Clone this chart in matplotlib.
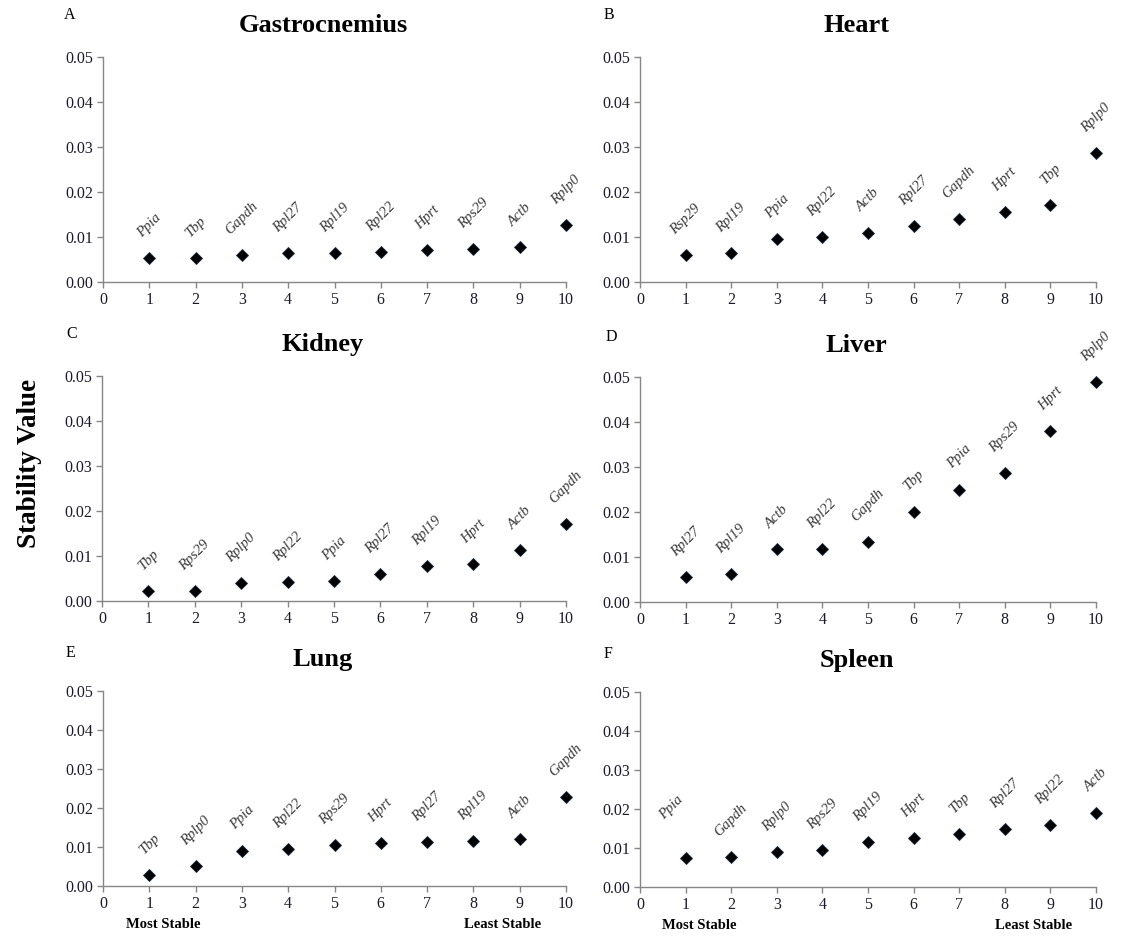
import numpy as np
import matplotlib
matplotlib.use("Agg")
from matplotlib import pyplot as plt

plt.rcParams['font.family'] = ['Liberation Serif', 'DejaVu Serif']

ranks = np.arange(1, 11)

gastro_genes = ["Ppia", "Tbp", "Gapdh", "Rpl27", "Rpl19", "Rpl22", "Hprt", "Rps29", "Actb", "Rplp0"]
gastro_vals = [0.0054, 0.0054, 0.0059, 0.0064, 0.0064, 0.0067, 0.0072, 0.0074, 0.0077, 0.0127]

heart_genes = ["Rsp29", "Rpl19", "Ppia", "Rpl22", "Actb", "Rpl27", "Gapdh", "Hprt", "Tbp", "Rplp0"]
heart_vals = [0.0059, 0.0064, 0.0096, 0.0099, 0.0110, 0.0124, 0.0139, 0.0156, 0.0171, 0.0287]

kidney_genes = ["Tbp", "Rps29", "Rplp0", "Rpl22", "Ppia", "Rpl27", "Rpl19", "Hprt", "Actb", "Gapdh"]
kidney_vals = [0.0022, 0.0022, 0.0040, 0.0042, 0.0045, 0.0060, 0.0077, 0.0082, 0.0113, 0.0172]

liver_genes = ["Rpl27", "Rpl19", "Actb", "Rpl22", "Gapdh", "Tbp", "Ppia", "Rps29", "Hprt", "Rplp0"]
liver_vals = [0.0055, 0.0062, 0.0117, 0.0117, 0.0134, 0.0201, 0.0250, 0.0287, 0.0379, 0.0489]

lung_genes = ["Tbp", "Rplp0", "Ppia", "Rpl22", "Rps29", "Hprt", "Rpl27", "Rpl19", "Actb", "Gapdh"]
lung_vals = [0.0028, 0.0051, 0.0091, 0.0094, 0.0105, 0.0109, 0.0112, 0.0115, 0.0120, 0.0229]

spleen_genes = ["Ppia", "Gapdh", "Rplp0", "Rps29", "Rpl19", "Hprt", "Tbp", "Rpl27", "Rpl22", "Actb"]
spleen_vals = [0.0074, 0.0077, 0.0089, 0.0095, 0.0116, 0.0126, 0.0135, 0.0149, 0.0158, 0.0191]

panels = [
    ("A", "Gastrocnemius", gastro_genes, gastro_vals),
    ("B", "Heart", heart_genes, heart_vals),
    ("C", "Kidney", kidney_genes, kidney_vals),
    ("D", "Liver", liver_genes, liver_vals),
    ("E", "Lung", lung_genes, lung_vals),
    ("F", "Spleen", spleen_genes, spleen_vals),
]

W, H = 1123, 939
fig = plt.figure(figsize=(W / 100, H / 100), dpi=100)

# axes boxes in pixels: left, right, top, bottom
boxes = [
    (103, 566, 57, 282), (640, 1096, 57, 282),
    (102, 566, 376, 601), (640, 1096, 377, 602),
    (103, 566, 691, 886), (640, 1096, 692, 887),
]
letter_pos = [(70, 15), (609, 15), (72, 334), (611, 337), (70, 653), (608, 654)]

axis_grey = "#868686"

for i, (letter, title, genes, vals) in enumerate(panels):
    l, r, t, b = boxes[i]
    ax = fig.add_axes([l / W, 1 - b / H, (r - l) / W, (b - t) / H])
    ax.plot(ranks, vals, linestyle="none", marker="D", markersize=5.8,
            color="black", markeredgecolor="#1a2a40", markeredgewidth=0.6,
            clip_on=False, zorder=3)

    for k, (g, v) in enumerate(zip(genes, vals)):
        dx, dy = 0, 13
        if title == "Spleen" and k == 0:
            dx, dy = -10, 26
        ax.annotate(g, (ranks[k], v), xytext=(dx, dy), textcoords="offset points",
                    rotation=45, ha="center", va="bottom", fontsize=10.5,
                    style="italic", color="#383838", annotation_clip=False)

    ax.set_xlim(0, 10)
    ax.set_ylim(0, 0.05)
    ax.set_xticks(np.arange(0, 11))
    ax.set_yticks(np.arange(0, 0.051, 0.01))
    ax.yaxis.set_major_formatter(plt.FormatStrFormatter("%.2f"))
    for side in ("top", "right"):
        ax.spines[side].set_visible(False)
    for side in ("left", "bottom"):
        ax.spines[side].set_color(axis_grey)
        ax.spines[side].set_linewidth(1)
    ax.tick_params(direction="out", length=4, width=1, color=axis_grey,
                   labelsize=11.5, labelcolor="#1a1a2a", pad=3)
    ax.set_title(title, fontsize=19, fontweight="bold", pad=18, x=0.475)

    fig.text(letter_pos[i][0] / W, 1 - letter_pos[i][1] / H, letter,
             fontsize=11.5, ha="center", va="center")

    if letter in ("E", "F"):
        tr = ax.get_xaxis_transform()
        ax.text(1.3, -0.195, "Most Stable", transform=tr, ha="center", va="center",
                fontsize=10.5, fontweight="bold")
        ax.text(8.62, -0.195, "Least Stable", transform=tr, ha="center", va="center",
                fontsize=10.5, fontweight="bold")

fig.text(30 / W, 1 - 463 / H, "Stability Value", rotation=90, ha="center",
         va="center", fontsize=19.5, fontweight="bold")

fig.savefig("out.png", dpi=100)
